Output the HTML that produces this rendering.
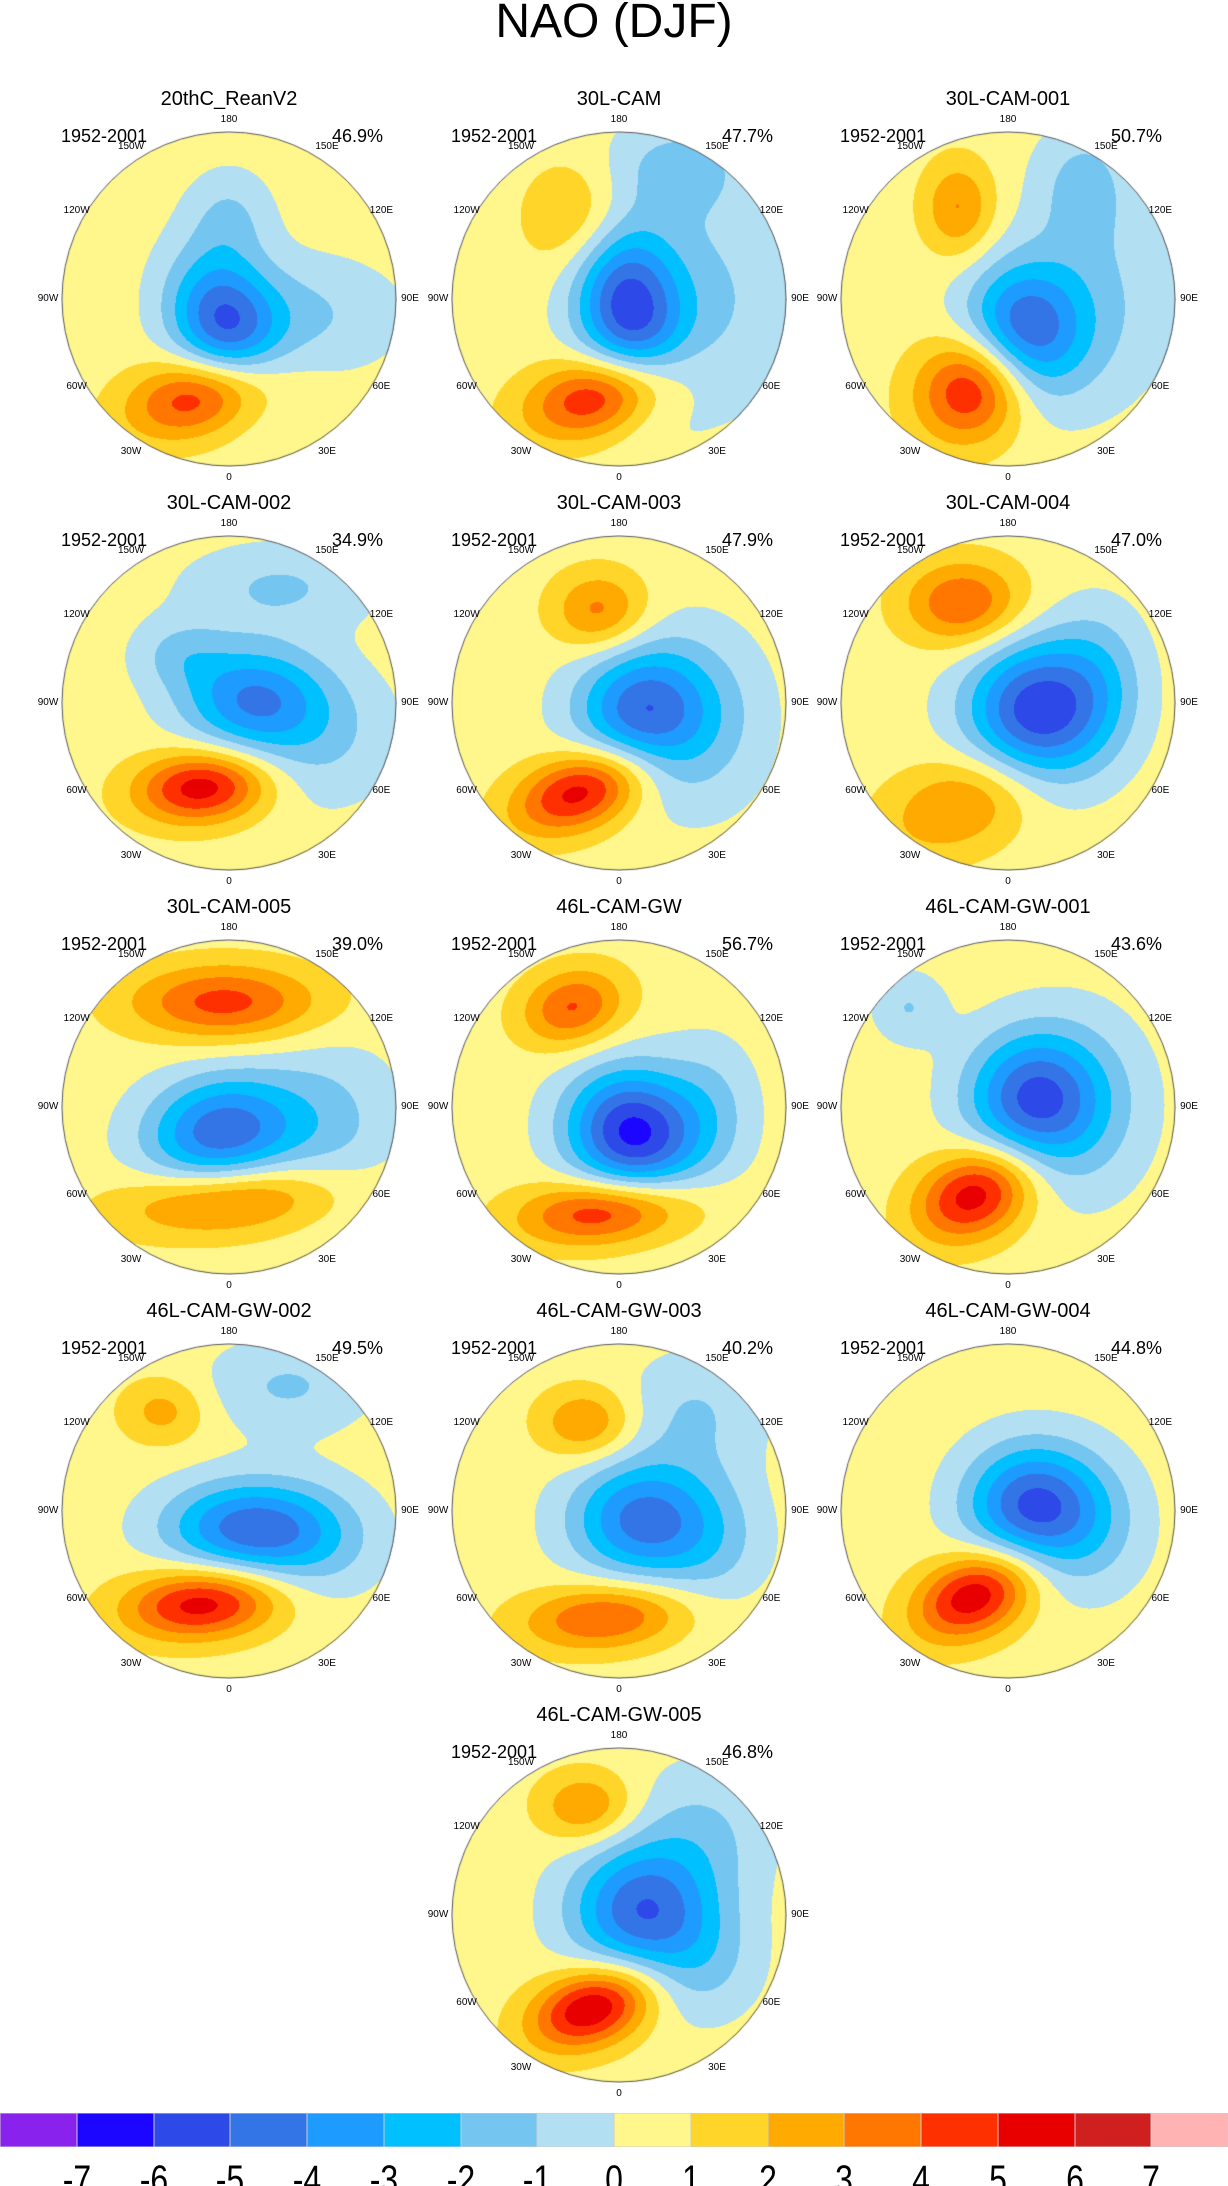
<!DOCTYPE html>
<html><head><meta charset="utf-8">
<style>
html,body{margin:0;padding:0;background:#fff;}
#root{position:relative;width:1228px;height:2186px;overflow:hidden;font-family:"Liberation Sans",sans-serif;color:#000;}
.t{position:absolute;white-space:nowrap;}
canvas{position:absolute;}
</style></head>
<body>
<div id="root">
<div class="t" style="left:0;width:1228px;text-align:center;top:-6px;font-size:48px;">NAO (DJF)</div>
</div>
<script>
// Panel names, percent variance, and field anomaly centres [u, v, amp, sx, sy, rotDeg]
const panelNames = ["20thC_ReanV2","30L-CAM","30L-CAM-001","30L-CAM-002","30L-CAM-003","30L-CAM-004","30L-CAM-005","46L-CAM-GW","46L-CAM-GW-001","46L-CAM-GW-002","46L-CAM-GW-003","46L-CAM-GW-004","46L-CAM-GW-005"];
const panelPct = ["46.9%","47.7%","50.7%","34.9%","47.9%","47.0%","39.0%","56.7%","43.6%","49.5%","40.2%","44.8%","46.8%"];
const panelCenters = [
 [[-0.03,0.15,-5.2,0.22,0.3,-20],[-0.16,0.57,4.6,0.32,0.17,-15],[0.45,0.1,-1.6,0.4,0.25,0],[0,-0.5,-1.5,0.18,0.2,0]],
 [[0.05,0.05,-5.6,0.22,0.36,-10],[-0.1,0.57,5.0,0.32,0.17,-15],[-0.24,-0.48,2.1,0.22,0.24,0],[0.5,0.0,-1.6,0.4,0.5,0],[0.35,-0.8,-1.6,0.3,0.2,0]],
 [[0.08,0.2,-5.3,0.25,0.28,0],[-0.2,0.52,5.2,0.25,0.22,-35],[-0.3,-0.55,2.6,0.15,0.2,0],[0.5,0.0,-1.5,0.35,0.45,0],[0.45,-0.7,-1.6,0.2,0.25,0]],
 [[0.13,-0.03,-4.1,0.3,0.22,0],[-0.16,0.5,5.2,0.28,0.15,-5],[0.5,0.2,-1.6,0.35,0.3,0],[0.3,-0.7,-1.6,0.4,0.18,0],[-0.3,-0.3,-1.5,0.2,0.15,0]],
 [[0.13,0.05,-4.9,0.28,0.28,0],[-0.22,0.52,5.2,0.3,0.16,-20],[-0.12,-0.55,2.9,0.2,0.17,0],[0.5,0.1,-1.5,0.3,0.4,0]],
 [[0.18,0.05,-6.3,0.3,0.3,30],[-0.27,-0.6,3.6,0.25,0.18,0],[-0.27,0.6,2.7,0.35,0.2,-20],[0.55,-0.2,-1.4,0.2,0.3,0]],
 [[-0.03,-0.63,3.9,0.4,0.16,0],[-0.05,0.15,-5.2,0.32,0.24,-10],[0.0,0.55,3.6,0.45,0.15,-5],[0.6,0.1,-1.6,0.3,0.35,0]],
 [[-0.28,-0.6,3.6,0.22,0.16,-15],[0.08,0.15,-6.8,0.28,0.26,30],[-0.08,0.62,4.6,0.36,0.14,-5],[0.55,0.0,-1.4,0.2,0.3,0]],
 [[0.14,-0.05,-5.2,0.28,0.28,0],[-0.2,0.52,5.2,0.26,0.18,-25],[-0.6,-0.6,-1.5,0.15,0.15,0],[0.45,0.0,-1.5,0.3,0.4,0]],
 [[-0.4,-0.6,1.9,0.18,0.14,0],[0.1,0.1,-4.8,0.35,0.2,0],[-0.16,0.55,5.1,0.33,0.15,-5],[0.35,-0.75,-1.6,0.35,0.2,0],[0.5,0.2,-1.5,0.3,0.25,0]],
 [[-0.2,-0.53,2.6,0.2,0.15,0],[0.13,0.05,-4.8,0.3,0.25,0],[-0.08,0.63,3.7,0.35,0.14,-5],[0.45,-0.6,-1.5,0.3,0.25,0],[0.55,0.2,-1.4,0.25,0.3,0]],
 [[0.14,-0.03,-5.6,0.28,0.26,0],[-0.2,0.5,5.4,0.27,0.17,-25],[0.5,0.1,-1.4,0.25,0.3,0]],
 [[-0.2,-0.65,2.6,0.2,0.15,0],[0.13,-0.03,-5.2,0.3,0.28,0],[-0.16,0.55,5.7,0.27,0.16,-20],[0.5,-0.5,-1.5,0.3,0.3,0],[0.5,0.3,-1.4,0.25,0.25,0]]
];
const levelLabels = ["-7","-6","-5","-4","-3","-2","-1","0","1","2","3","4","5","6","7"];
const levelColors = ["#8a22ee","#1d06ff","#2d4ae8","#3375e6","#1e9bff","#00c0ff","#74c6f0","#b3dff2","#fff68c","#ffd52a","#ffaa00","#ff7700","#ff3000","#e80000","#d01f1f","#ffb3b3"];
const lonLabels = ["0","30E","60E","90E","120E","150E","180","150W","120W","90W","60W","30W"];
const lonValues = [0,30,60,90,120,150,180,-150,-120,-90,-60,-30];

const root = document.getElementById('root');
const colX = [229,619,1008], rowY = [299,703,1107,1511,1915], R = 167, BASE = 0.5;
function rgb(h){return [parseInt(h.slice(1,3),16),parseInt(h.slice(3,5),16),parseInt(h.slice(5,7),16)];}
const rgbCols = levelColors.map(rgb);
function levelIndex(v){let i=Math.floor(v)+8;return Math.max(0,Math.min(15,i));}
function addText(txt,x,y,size,align,name){
  const d=document.createElement('div');d.className='t';d.textContent=txt;
  
  
  d.style.fontSize=size+'px';d.style.top=(y-size*0.58)+'px';
  if(align==='c'){d.style.left=(x-200)+'px';d.style.width='400px';d.style.textAlign='center';}
  else if(align==='r'){d.style.left=(x-400)+'px';d.style.width='400px';d.style.textAlign='right';}
  else d.style.left=x+'px';
  root.appendChild(d);
}
panelNames.forEach((nm,p)=>{
  let cx,cy;
  if(p<12){cx=colX[p%3];cy=rowY[Math.floor(p/3)];}else{cx=colX[1];cy=rowY[4];}
  const cv=document.createElement('canvas');
  
  
  const S=2*R+2;cv.width=S;cv.height=S;cv.style.left=(cx-R-1)+'px';cv.style.top=(cy-R-1)+'px';
  const ctx=cv.getContext('2d');const img=ctx.createImageData(S,S);
  const cs=panelCenters[p].map(c=>{const a=c[5]*Math.PI/180;return [c[0],c[1],c[2],c[3],c[4],Math.cos(a),Math.sin(a)];});
  for(let j=0;j<S;j++)for(let i=0;i<S;i++){
    const u=(i-R-1)/R,v=(j-R-1)/R; if(u*u+v*v>1)continue;
    let f=BASE;
    for(const c of cs){const du=u-c[0],dv=v-c[1];const a=(du*c[5]+dv*c[6])/c[3],b=(-du*c[6]+dv*c[5])/c[4];f+=c[2]*Math.exp(-(a*a+b*b)/2);}
    const col=rgbCols[levelIndex(f)];const k=(j*S+i)*4;
    img.data[k]=col[0];img.data[k+1]=col[1];img.data[k+2]=col[2];img.data[k+3]=255;
  }
  ctx.putImageData(img,0,0);
  ctx.beginPath();ctx.arc(R+1,R+1,R,0,Math.PI*2);ctx.strokeStyle='#555';ctx.lineWidth=1;ctx.stroke();
  root.appendChild(cv);
  addText(nm,cx,cy-199,20,'c','panel-title');
  addText("1952-2001",cx-168,cy-163,18,'l','period-label');
  addText(panelPct[p],cx+154,cy-163,18,'r','variance-label');
  lonValues.forEach((L,k)=>{
    const a=L*Math.PI/180;const rr=R+(Math.abs(Math.cos(a))>0.95?12:(Math.abs(Math.sin(a))>0.95?14:9));
    let x=cx+rr*Math.sin(a),y=cy+rr*Math.cos(a);
    if(L===-150||L===-30){x-=10;} if(L===150||L===30){x+=10;}
    addText(lonLabels[k],x,y,10,'c','lon-label');
  });
});
// colorbar
const bw=1228/16;
levelColors.forEach((c,i)=>{
  const d=document.createElement('div');
  
  
  d.style.cssText=`position:absolute;left:${i*bw}px;top:2113px;width:${bw}px;height:34px;background:${c};box-shadow:inset 0 0 0 0.5px #ccc;`;
  root.appendChild(d);
});
levelLabels.forEach((t,i)=>{
  const d=document.createElement('div');d.className='t';d.textContent=t;
  
  
  d.style.cssText+=`left:${(i+1)*bw-50}px;width:100px;text-align:center;top:2158px;font-size:40px;transform:scaleX(0.8);`;
  root.appendChild(d);
});
</script>
</body></html>
